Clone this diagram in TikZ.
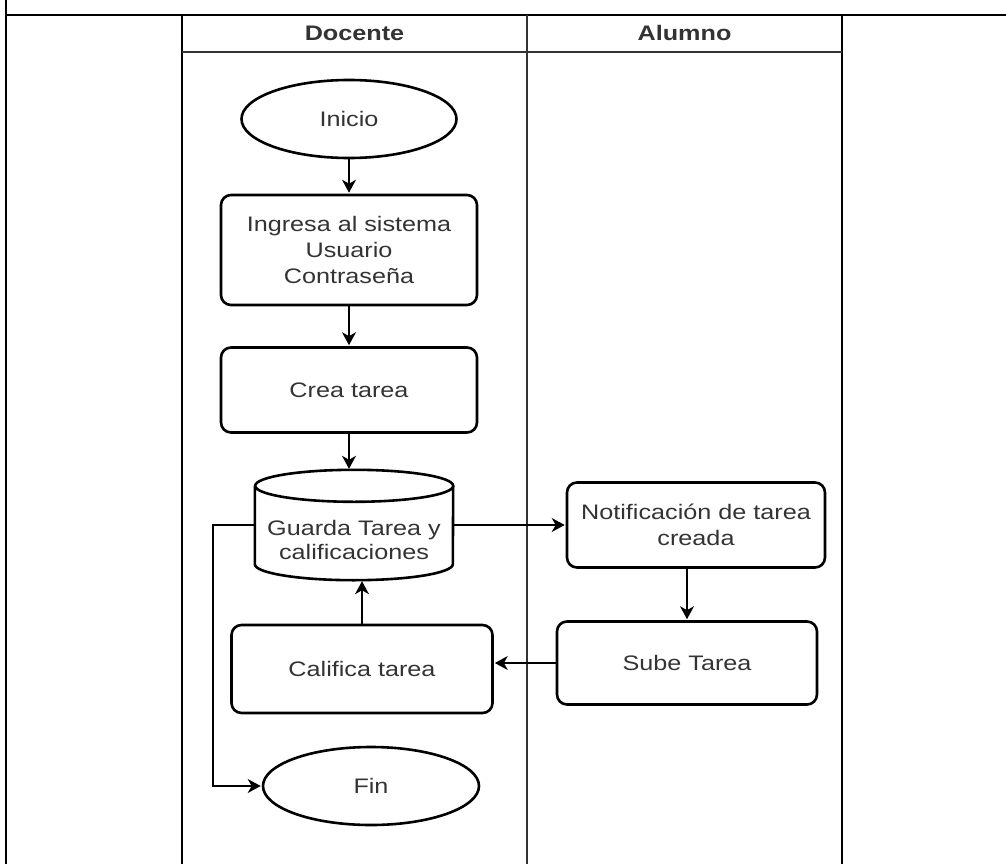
\documentclass[tikz,border=0pt]{standalone}
\usepackage{fontspec}
\setmainfont{Liberation Sans}[FakeStretch=1.2]
\usetikzlibrary{shapes.geometric,arrows.meta,calc}
\definecolor{txtgray}{HTML}{333333}

\begin{document}
\begin{tikzpicture}[
  x=1pt, y=-1pt,
  every node/.style={font=\fontsize{21}{26}\selectfont, text=txtgray, align=center},
  proc/.style={rectangle, draw=black, line width=2.6pt, rounded corners=10pt,
               minimum width=256pt, minimum height=85pt, inner sep=2pt},
  term/.style={ellipse, draw=black, line width=2.6pt, minimum width=215pt,
               minimum height=78pt, inner sep=0pt},
  head/.style={font=\bfseries\fontsize{21}{26}\selectfont},
  lane/.style={line width=2.6pt},
  divider/.style={line width=1.6pt, black!80},
  arrow/.style={-{Stealth[length=13pt, width=14pt, inset=4pt]}, line width=1.6pt, shorten >=1pt},
]
\useasboundingbox (0,0) rectangle (1006,864);

\draw[lane] (6,0) -- (6,864);
\draw[lane] (5,15) -- (1006,15);
\draw[lane] (182,15) -- (182,864);
\draw[lane] (842,15) -- (842,864);
\draw[divider] (527,15) -- (527,864);
\draw[divider] (182,52) -- (842,52);

\node[head] (docente) at (354.5,33) {Docente};
\node[head] (alumno) at (684.5,33) {Alumno};

\node[term] (inicio) at (349,119) {Inicio};
\node[proc, minimum height=110pt] (ingresa) at (349,250) {Ingresa al sistema\\Usuario\\Contraseña};
\node[proc] (crea) at (349,390) {Crea tarea};
\node[minimum width=198pt, minimum height=110pt, inner sep=0pt] (guarda) at (354,525) {};
\node[font=\fontsize{21}{24.5}\selectfont] (guardatxt) at (354,540) {Guarda Tarea y\\calificaciones};
\node[proc, minimum width=258pt] (noti) at (696,525) {Notificación de tarea\\creada};
\node[proc, minimum width=260pt, minimum height=83pt] (sube) at (687,663) {Sube Tarea};
\node[proc, minimum width=261pt, minimum height=88pt] (califica) at (362,669) {Califica tarea};
\node[term, minimum width=216pt] (fin) at (371,786) {Fin};

\draw[line width=2.6pt] ([yshift=-16pt]guarda.north west) -- ([yshift=16pt]guarda.south west)
  arc[start angle=180, end angle=360, x radius=99pt, y radius=16pt]
  -- ([yshift=-16pt]guarda.north east)
  arc[start angle=0, end angle=180, x radius=99pt, y radius=16pt]
  arc[start angle=180, end angle=360, x radius=99pt, y radius=16pt];

\draw[arrow] (inicio) -- (ingresa);
\draw[arrow] (ingresa) -- (crea);
\draw[arrow] (crea.south) -- (crea.south |- guarda.north);
\draw[arrow] (guarda.east) -- (noti.west);
\draw[arrow] (sube.north |- noti.south) -- (sube.north);
\draw[arrow] (sube.west) -- (sube.west -| califica.east);
\draw[arrow] (califica.north) -- (califica.north |- guarda.south);
\draw[arrow] (guarda.west) -- ++(-42,0) |- (fin.west);

\end{tikzpicture}
\end{document}
